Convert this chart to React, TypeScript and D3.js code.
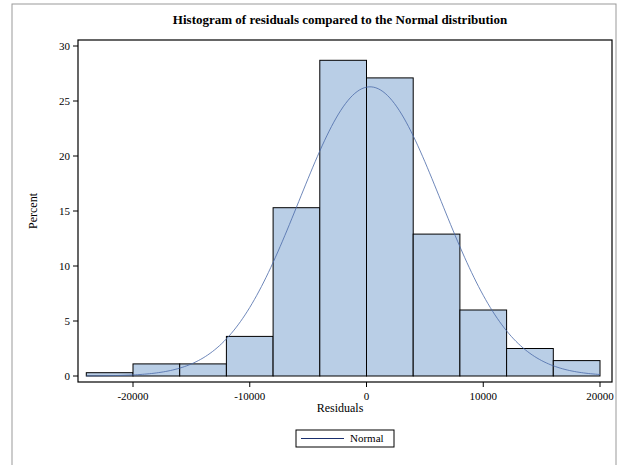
import React from 'react';
import * as d3 from 'd3';

const binStarts = [-24000, -20000, -16000, -12000, -8000, -4000, 0, 4000, 8000, 12000, 16000];
const binWidth = 4000;
const percents = [0.3, 1.1, 1.1, 3.6, 15.3, 28.7, 27.1, 12.9, 6.0, 2.5, 1.4];
const xTicks = [-20000, -10000, 0, 10000, 20000];
const yTicks = [0, 5, 10, 15, 20, 25, 30];
// fitted normal parameters
const normalMu = 300;
const normalSigma = 6070;

const W = 620, H = 465;
const left = 78, right = 612, top = 40, bottom = 382;
const font = '"Liberation Serif", "Times New Roman", serif';

const App: React.FC = () => {
  const x = d3.scaleLinear().domain([-20000, 20000]).range([133, 600]);
  const y = d3.scaleLinear().domain([0, 30]).range([376, 46]);
  const curveX = d3.range(-24000, 20001, 200);
  const pdf = (v: number) =>
    (binWidth * 100) / (normalSigma * Math.sqrt(2 * Math.PI)) *
    Math.exp(-0.5 * ((v - normalMu) / normalSigma) ** 2);
  const line = d3.line<number>().x(d => x(d)).y(d => y(pdf(d)))(curveX) || '';

  return (
    <svg width={W} height={H} style={{ position: 'absolute', left: 0, top: 0, background: '#fff' }} fontFamily={font}>
      <rect x={12} y={4} width={604} height={470} fill="#fff" stroke="#999" />
      <text x={340} y={24} textAnchor="middle" fontSize={13} fontWeight="bold">
        Histogram of residuals compared to the Normal distribution
      </text>
      {binStarts.map((b, i) => (
        <rect key={i} x={x(b)} y={y(percents[i])} width={x(b + binWidth) - x(b)}
          height={y(0) - y(percents[i])} fill="#b9cee6" stroke="#000" strokeWidth={1} />
      ))}
      <path d={line} fill="none" stroke="#4a6aa8" strokeWidth={0.8} />
      <rect x={left} y={top} width={right - left} height={bottom - top} fill="none" stroke="#000" strokeWidth={1.2} />
      {yTicks.map(t => (
        <g key={t}>
          <line x1={left - 5} x2={left} y1={y(t)} y2={y(t)} stroke="#000" />
          <text x={left - 8} y={y(t) + 4} textAnchor="end" fontSize={11}>{t}</text>
        </g>
      ))}
      {xTicks.map(t => (
        <g key={t}>
          <line x1={x(t)} x2={x(t)} y1={bottom} y2={bottom + 5} stroke="#000" />
          <text x={x(t)} y={bottom + 18} textAnchor="middle" fontSize={11}>{t}</text>
        </g>
      ))}
      <text transform={`translate(37,${(top + bottom) / 2}) rotate(-90)`} textAnchor="middle" fontSize={12}>Percent</text>
      <text x={340} y={412} textAnchor="middle" fontSize={12}>Residuals</text>
      <rect x={296} y={430} width={98} height={17} fill="#fff" stroke="#000" />
      <line x1={301} x2={344} y1={438.5} y2={438.5} stroke="#1a2f6e" />
      <text x={350} y={442} fontSize={11}>Normal</text>
    </svg>
  );
};

export default App;
